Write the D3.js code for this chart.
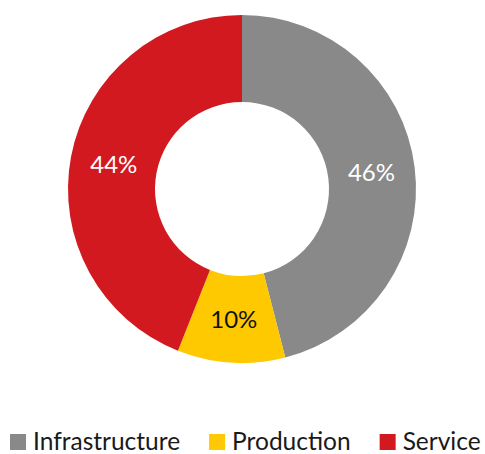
<!DOCTYPE html>
<html>
<head>
<meta charset="utf-8">
<script src="https://cdn.jsdelivr.net/npm/d3@7"></script>
<style>
  html, body { margin: 0; padding: 0; background: #fff; }
  svg { display: block; }
  text { font-family: "Lato", "Open Sans", sans-serif; }
</style>
</head>
<body>
<svg id="chart" width="485" height="454"></svg>
<script>
const categories = ["Infrastructure", "Production", "Service"];
const shares = [46, 10, 44];
const colors = ["#898989", "#fec900", "#d1191f"];
const labelColors = ["#ffffff", "#111111", "#ffffff"];

const svg = d3.select("#chart");
const cx = 242, cy = 189;
const outerR = 174, innerR = 87;

const data = categories.map((c, i) => ({ name: c, value: shares[i], color: colors[i], labelColor: labelColors[i] }));

const pie = d3.pie().value(d => d.value).sort(null);
const arc = d3.arc().innerRadius(innerR).outerRadius(outerR);

const g = svg.append("g").attr("transform", `translate(${cx},${cy})`);
const arcs = pie(data);

g.selectAll("path.slice")
  .data(arcs)
  .join("path")
  .attr("class", "slice")
  .attr("d", arc)
  .attr("fill", d => d.data.color);

g.selectAll("text.pct")
  .data(arcs)
  .join("text")
  .attr("class", "pct")
  .attr("transform", d => `translate(${arc.centroid(d)})`)
  .attr("text-anchor", "middle")
  .attr("dy", "0.35em")
  .attr("font-size", 24)
  .attr("fill", d => d.data.labelColor)
  .text(d => d.data.value + "%");

// Legend: square swatch + name, laid out left to right
const legend = svg.append("g").attr("transform", "translate(10,450)");
let x = 0;
const sw = 16, swGap = 7, itemGap = 29;
data.forEach(d => {
  const item = legend.append("g").attr("transform", `translate(${x},0)`);
  item.append("rect")
    .attr("x", 0).attr("y", -sw)
    .attr("width", sw).attr("height", sw)
    .attr("fill", d.color);
  const t = item.append("text")
    .attr("x", sw + swGap).attr("y", 0)
    .attr("font-size", 24.5)
    .attr("fill", "#1a1a1a")
    .text(d.name);
  x += sw + swGap + t.node().getComputedTextLength() + itemGap;
});
</script>
</body>
</html>
